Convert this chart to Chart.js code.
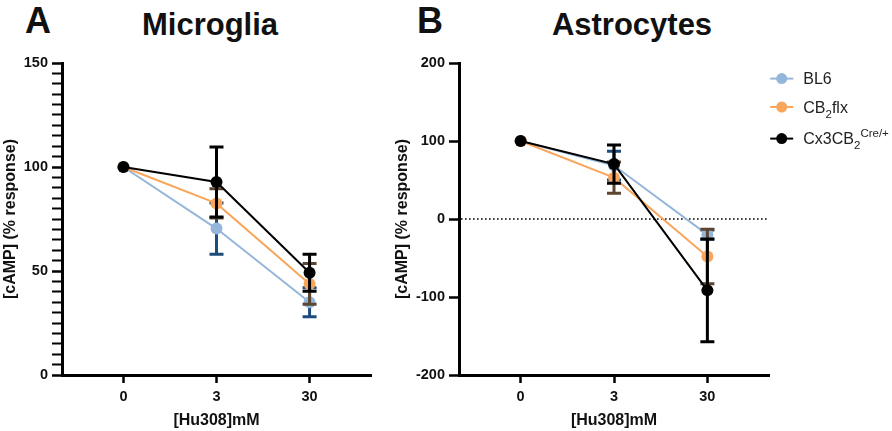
<!DOCTYPE html>
<html>
<head>
<meta charset="utf-8">
<script src="https://cdn.jsdelivr.net/npm/chart.js@4.4.1/dist/chart.umd.min.js"></script>
<style>
  html, body { margin: 0; padding: 0; background: #fff; }
  body { width: 892px; height: 431px; position: relative; overflow: hidden; font-family: "Liberation Sans", Arial, sans-serif; }
  .lbl { position: absolute; font-weight: bold; color: #111; line-height: 1; white-space: nowrap; }
  canvas { position: absolute; top: 0; }
</style>
</head>
<body>
<div class="lbl" style="left:25px; top:2.5px; font-size:36px;">A</div>
<div class="lbl" style="left:110px; width:200px; text-align:center; top:9px; font-size:31px;">Microglia</div>
<div class="lbl" style="left:417px; top:2.5px; font-size:36px;">B</div>
<div class="lbl" style="left:532px; width:200px; text-align:center; top:9px; font-size:31px;">Astrocytes</div>
<canvas id="chartA" width="392" height="431" style="left:0px; width:392px; height:431px;"></canvas>
<canvas id="chartB" width="500" height="431" style="left:392px; width:500px; height:431px;"></canvas>
<script>
// ---------------- data ----------------
const doseLabels = ['0', '3', '30'];
const xAxisTitle = '[Hu308]mM';
const yAxisTitle = '[cAMP] (% response)';
const seriesNames = ['BL6', 'CB2flx', 'Cx3CB2Cre/+'];

// Microglia (panel A): means and SEM
const microBL6 = [100, 70.4, 35.0];
const microBL6Err = [0, 12.3, 7.0];
const microCB2flx = [100, 82.5, 43.8];
const microCB2flxErr = [0, 7.0, 9.8];
const microCx3 = [100, 92.8, 49.2];
const microCx3Err = [0, 16.8, 8.9];

// Astrocytes (panel B): means and SEM
const astroBL6 = [100, 68.5, -20.0];
const astroBL6Err = [0, 18.5, 6.0];
const astroCB2flx = [100, 53.0, -48.0];
const astroCB2flxErr = [0, 20.0, 35.0];
const astroCx3 = [100, 70.4, -91.5];
const astroCx3Err = [0, 24.5, 66.0];

// legend text parts (sub/superscripts)
const legendParts = [
  [{ t: 'BL6' }],
  [{ t: 'CB' }, { t: '2', sub: true }, { t: 'flx' }],
  [{ t: 'Cx3CB' }, { t: '2', sub: true }, { t: 'Cre/+', sup: true }]
];

// ---------------- styles ----------------
const FONT = '"Liberation Sans", Arial, sans-serif';
const lineColors = ['#94b6da', '#f8a65c', '#000000'];
const errColors = ['#1d4c7c', '#5c4631', '#000000'];

function makeSeries(values, errs, i) {
  return {
    label: seriesNames[i],
    data: values.map((v, j) => ({ x: j, y: v })),
    errors: errs,
    errColor: errColors[i],
    borderColor: lineColors[i],
    backgroundColor: lineColors[i],
    pointBackgroundColor: lineColors[i],
    pointBorderColor: lineColors[i],
    pointRadius: 6,
    pointBorderWidth: 0,
    borderWidth: 2,
    tension: 0,
    order: 3 - i
  };
}

const errorBarPlugin = {
  id: 'errorBars',
  beforeDatasetDraw(chart, args) {
    const ds = chart.data.datasets[args.index];
    if (!ds.errors) return;
    const xs = chart.scales.x, ys = chart.scales.y;
    const ctx = chart.ctx;
    ctx.save();
    ctx.strokeStyle = ds.errColor;
    ctx.lineWidth = 3;
    ctx.lineCap = 'butt';
    ds.data.forEach((p, j) => {
      const e = ds.errors[j];
      if (!e) return;
      const x = xs.getPixelForValue(p.x);
      const yHi = ys.getPixelForValue(p.y + e);
      const yLo = ys.getPixelForValue(p.y - e);
      ctx.beginPath();
      ctx.moveTo(x, yHi); ctx.lineTo(x, yLo);
      ctx.moveTo(x - 7, yHi); ctx.lineTo(x + 7, yHi);
      ctx.moveTo(x - 7, yLo); ctx.lineTo(x + 7, yLo);
      ctx.stroke();
    });
    ctx.restore();
  }
};

const zeroLinePlugin = {
  id: 'zeroLine',
  beforeDatasetsDraw(chart, args, opts) {
    if (!opts || !opts.show) return;
    const ys = chart.scales.y, a = chart.chartArea;
    const y = ys.getPixelForValue(0);
    const ctx = chart.ctx;
    ctx.save();
    ctx.strokeStyle = '#000';
    ctx.lineWidth = 1.6;
    ctx.setLineDash([1.6, 2.4]);
    ctx.beginPath();
    ctx.moveTo(a.left + 2, y); ctx.lineTo(a.right, y);
    ctx.stroke();
    ctx.restore();
  }
};

const legendPlugin = {
  id: 'customLegend',
  afterDraw(chart, args, opts) {
    if (!opts || !opts.show) return;
    const ctx = chart.ctx, a = chart.chartArea;
    const rowsY = [a.top + 15.6, a.top + 44, a.top + 75.6];
    const mx = a.right + 12.7;
    chart.data.datasets.forEach((ds, i) => {
      const y = rowsY[i];
      ctx.save();
      ctx.strokeStyle = ds.borderColor;
      ctx.lineWidth = 2;
      ctx.beginPath();
      ctx.moveTo(mx - 11.5, y); ctx.lineTo(mx + 11.5, y);
      ctx.stroke();
      ctx.fillStyle = ds.borderColor;
      ctx.beginPath();
      ctx.arc(mx, y, 5.5, 0, Math.PI * 2);
      ctx.fill();
      let tx = a.right + 34.3;
      ctx.fillStyle = '#222';
      ctx.textBaseline = 'alphabetic';
      legendParts[i].forEach(part => {
        let size = 16, dy = 5.6;
        if (part.sub) { size = 11.5; dy = 10.5; }
        if (part.sup) { size = 11.5; dy = -1.5; }
        ctx.font = size + 'px ' + FONT;
        ctx.fillText(part.t, tx, y + dy);
        tx += ctx.measureText(part.t).width;
      });
      ctx.restore();
    });
  }
};

function makeOptions(cfg) {
  return {
    responsive: false,
    maintainAspectRatio: false,
    animation: false,
    events: [],
    layout: { padding: { top: 63, right: cfg.padRight, bottom: 0, left: 0 } },
    plugins: {
      legend: { display: false },
      tooltip: { enabled: false },
      title: { display: false },
      zeroLine: { show: cfg.zeroLine },
      customLegend: { show: cfg.legend }
    },
    scales: {
      x: {
        type: 'linear',
        min: -0.66,
        max: 2.66,
        afterBuildTicks(scale) { scale.ticks = doseLabels.map((_, j) => ({ value: j })); },
        afterFit(scale) { scale.height = 56; },
        ticks: {
          autoSkip: false,
          padding: 5,
          color: '#111',
          font: { family: FONT, size: 14.5, weight: 'bold' },
          callback: (v) => doseLabels[v] !== undefined ? doseLabels[v] : ''
        },
        grid: { drawOnChartArea: false, drawTicks: true, tickLength: 8, tickWidth: 2.5, tickColor: '#000' },
        border: { display: true, color: '#000', width: 3 },
        title: {
          display: true, text: xAxisTitle, color: '#111',
          font: { family: FONT, size: 16, weight: 'bold' },
          padding: { top: 0, bottom: 0.5 }
        }
      },
      y: {
        type: 'linear',
        min: cfg.yMin,
        max: cfg.yMax,
        afterFit(scale) { scale.width = cfg.yWidth; },
        ticks: {
          stepSize: cfg.step,
          autoSkip: false,
          padding: 4,
          color: '#111',
          font: { family: FONT, size: 14.5, weight: 'bold' },
          callback: (v) => (v % cfg.labelEvery === 0 ? String(v) : '')
        },
        grid: {
          drawOnChartArea: false, drawTicks: true, tickLength: 10, tickColor: '#000',
          tickWidth: (c) => (c.tick && c.tick.value % cfg.labelEvery === 0 ? 2.5 : 2)
        },
        border: { display: true, color: '#000', width: 3 },
        title: {
          display: true, text: yAxisTitle, color: '#111',
          font: { family: FONT, size: 16, weight: 'bold' },
          padding: { top: 0.5, bottom: 0 }
        }
      }
    }
  };
}

new Chart(document.getElementById('chartA'), {
  type: 'line',
  data: {
    datasets: [
      makeSeries(microBL6, microBL6Err, 0),
      makeSeries(microCB2flx, microCB2flxErr, 1),
      makeSeries(microCx3, microCx3Err, 2)
    ]
  },
  options: makeOptions({ padRight: 21, yMin: 0, yMax: 150, step: 5, labelEvery: 50, yWidth: 62, zeroLine: false, legend: false }),
  plugins: [errorBarPlugin, zeroLinePlugin, legendPlugin]
});

new Chart(document.getElementById('chartB'), {
  type: 'line',
  data: {
    datasets: [
      makeSeries(astroBL6, astroBL6Err, 0),
      makeSeries(astroCB2flx, astroCB2flxErr, 1),
      makeSeries(astroCx3, astroCx3Err, 2)
    ]
  },
  options: makeOptions({ padRight: 123, yMin: -200, yMax: 200, step: 100, labelEvery: 100, yWidth: 67, zeroLine: true, legend: true }),
  plugins: [errorBarPlugin, zeroLinePlugin, legendPlugin]
});
</script>
</body>
</html>
